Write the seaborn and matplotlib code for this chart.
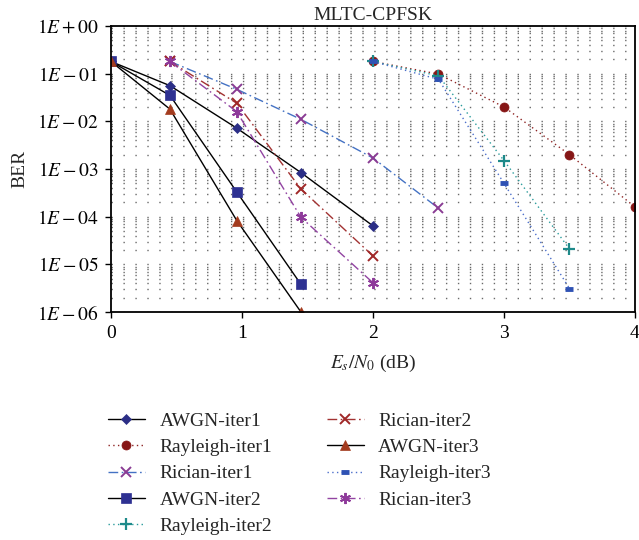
import numpy as np
import pandas as pd
import matplotlib
matplotlib.use("Agg")
import matplotlib.pyplot as plt
import matplotlib.ticker as mticker
import seaborn as sns

# ---------------------------------------------------------------------------
# Data
# ---------------------------------------------------------------------------
x_awgn = [0.0, 0.45, 0.96, 1.45, 2.0]
x_rician = [0.45, 0.96, 1.45, 2.0, 2.5]
x_rayleigh = [2.0, 2.5, 3.0, 3.5, 4.0]

awgn_iter1 = [0.18, 0.056, 0.0072, 8.4e-4, 6.4e-5]
awgn_iter2 = [0.18, 0.035, 3.3e-4, 3.8e-6]
awgn_iter3 = [0.18, 0.018, 8.3e-5, 1.0e-6]

rician_iter1 = [0.18, 0.047, 0.011, 1.7e-3, 1.5e-4]
rician_iter2 = [0.18, 0.024, 3.8e-4, 1.5e-5]
rician_iter3 = [0.18, 0.016, 9.7e-5, 4.1e-6]

rayleigh_iter1 = [0.18, 0.098, 0.020, 2.0e-3, 1.6e-4]
rayleigh_iter2 = [0.18, 0.090, 1.5e-3, 2.1e-5]
rayleigh_iter3 = [0.18, 0.076, 5.0e-4, 3.1e-6]

x_ticks = [0, 1, 2, 3, 4]
y_ticks = [1e0, 1e-1, 1e-2, 1e-3, 1e-4, 1e-5, 1e-6]
y_tick_labels = [r"$1E+00$", r"$1E-01$", r"$1E-02$", r"$1E-03$",
                 r"$1E-04$", r"$1E-05$", r"$1E-06$"]

# ---------------------------------------------------------------------------
# Style
# ---------------------------------------------------------------------------
sns.set_theme(style="ticks")
plt.rcParams.update({
    "font.family": ["Liberation Serif", "DejaVu Serif"],
    "mathtext.fontset": "stix",
    "font.size": 14,
    "axes.unicode_minus": True,
})

DASHDOT = (0, (7, 2.5, 1.2, 2.5))
DOTTED = (0, (1, 2.4))

series = [
    # label, x, y, line colour, linestyle, marker, marker colour, marker size, mew
    ("AWGN-iter1", x_awgn, awgn_iter1, "black", "-", "D", "#2B2E86", 5, 0.5),
    ("Rayleigh-iter1", x_rayleigh, rayleigh_iter1, "#8E2424", DOTTED, "o", "#861616", 6.5, 0.5),
    ("Rician-iter1", x_rician, rician_iter1, "#4472C4", DASHDOT, "x", "#8A3C94", 7.5, 1.4),
    ("AWGN-iter2", x_awgn[:4], awgn_iter2, "black", "-", "s", "#2E3192", 6.5, 0.5),
    ("Rayleigh-iter2", x_rayleigh[:4], rayleigh_iter2, "#2A9C9C", DOTTED, "+", "#1E8A8A", 8, 1.6),
    ("Rician-iter2", x_rician[:4], rician_iter2, "#A23232", DASHDOT, "x", "#A02828", 7.5, 1.4),
    ("AWGN-iter3", x_awgn[:4], awgn_iter3, "black", "-", "^", "#A33B1E", 7, 0.5),
    ("Rayleigh-iter3", x_rayleigh[:4], rayleigh_iter3, "#4C6FCB", DOTTED, "_", "#2F52B4", 6, 3.5),
    ("Rician-iter3", x_rician[:4], rician_iter3, "#9244A2", DASHDOT, (6, 2, 0), "#8E3A9A", 8, 1.4),
]

fig = plt.figure(figsize=(6.39, 5.40), dpi=100)
ax = fig.add_axes([111 / 639, 1 - 312 / 540, (635 - 111) / 639, (312 - 26) / 540])

for label, xs, ys, lc, ls, mk, mc, ms, mew in series:
    sns.lineplot(x=xs, y=ys, ax=ax, color=lc, linestyle=ls, linewidth=1.0,
                 marker=mk, markersize=ms, markerfacecolor=mc,
                 markeredgecolor=mc, markeredgewidth=mew,
                 sort=False, estimator=None, label=label)

ax.set_yscale("log")
ax.set_xlim(0, 4)
ax.set_ylim(1e-6, 1)
ax.set_xticks(x_ticks)
ax.set_yticks(y_ticks)
ax.set_yticklabels(y_tick_labels)
ax.yaxis.set_minor_locator(mticker.LogLocator(base=10, subs=np.arange(2, 10)))
ax.yaxis.set_minor_formatter(mticker.NullFormatter())
ax.tick_params(axis="y", which="minor", length=0)
ax.tick_params(axis="both", which="major", direction="out", length=4,
               width=1.0, labelsize=14, colors="black", pad=5)

# horizontal dotted grid (major + minor), sparse dots
ax.yaxis.grid(True, which="both", linestyle=(0, (1, 7.6)), linewidth=1.0,
              color="#6a6a6a")
ax.xaxis.grid(False)

for spine in ax.spines.values():
    spine.set_visible(True)
    spine.set_linewidth(1.3)
    spine.set_color("black")

ax.set_title("MLTC-CPFSK", fontsize=14, pad=4)
ax.set_ylabel("BER", fontsize=14, labelpad=6)
ax.set_xlabel(r"$E_s/N_0$ (dB)", fontsize=14, labelpad=8)

handles, labels = ax.get_legend_handles_labels()
ax.get_legend().remove()
fig.legend(handles, labels, ncol=2, loc="upper left",
           bbox_to_anchor=(108 / 639, 1 - 412 / 540), frameon=False,
           fontsize=14, handlelength=1.9, handletextpad=0.75,
           columnspacing=2.8, labelspacing=0.45, borderpad=0,
           borderaxespad=0)

fig.savefig("out.png", dpi=100, facecolor="white")
plt.close(fig)
